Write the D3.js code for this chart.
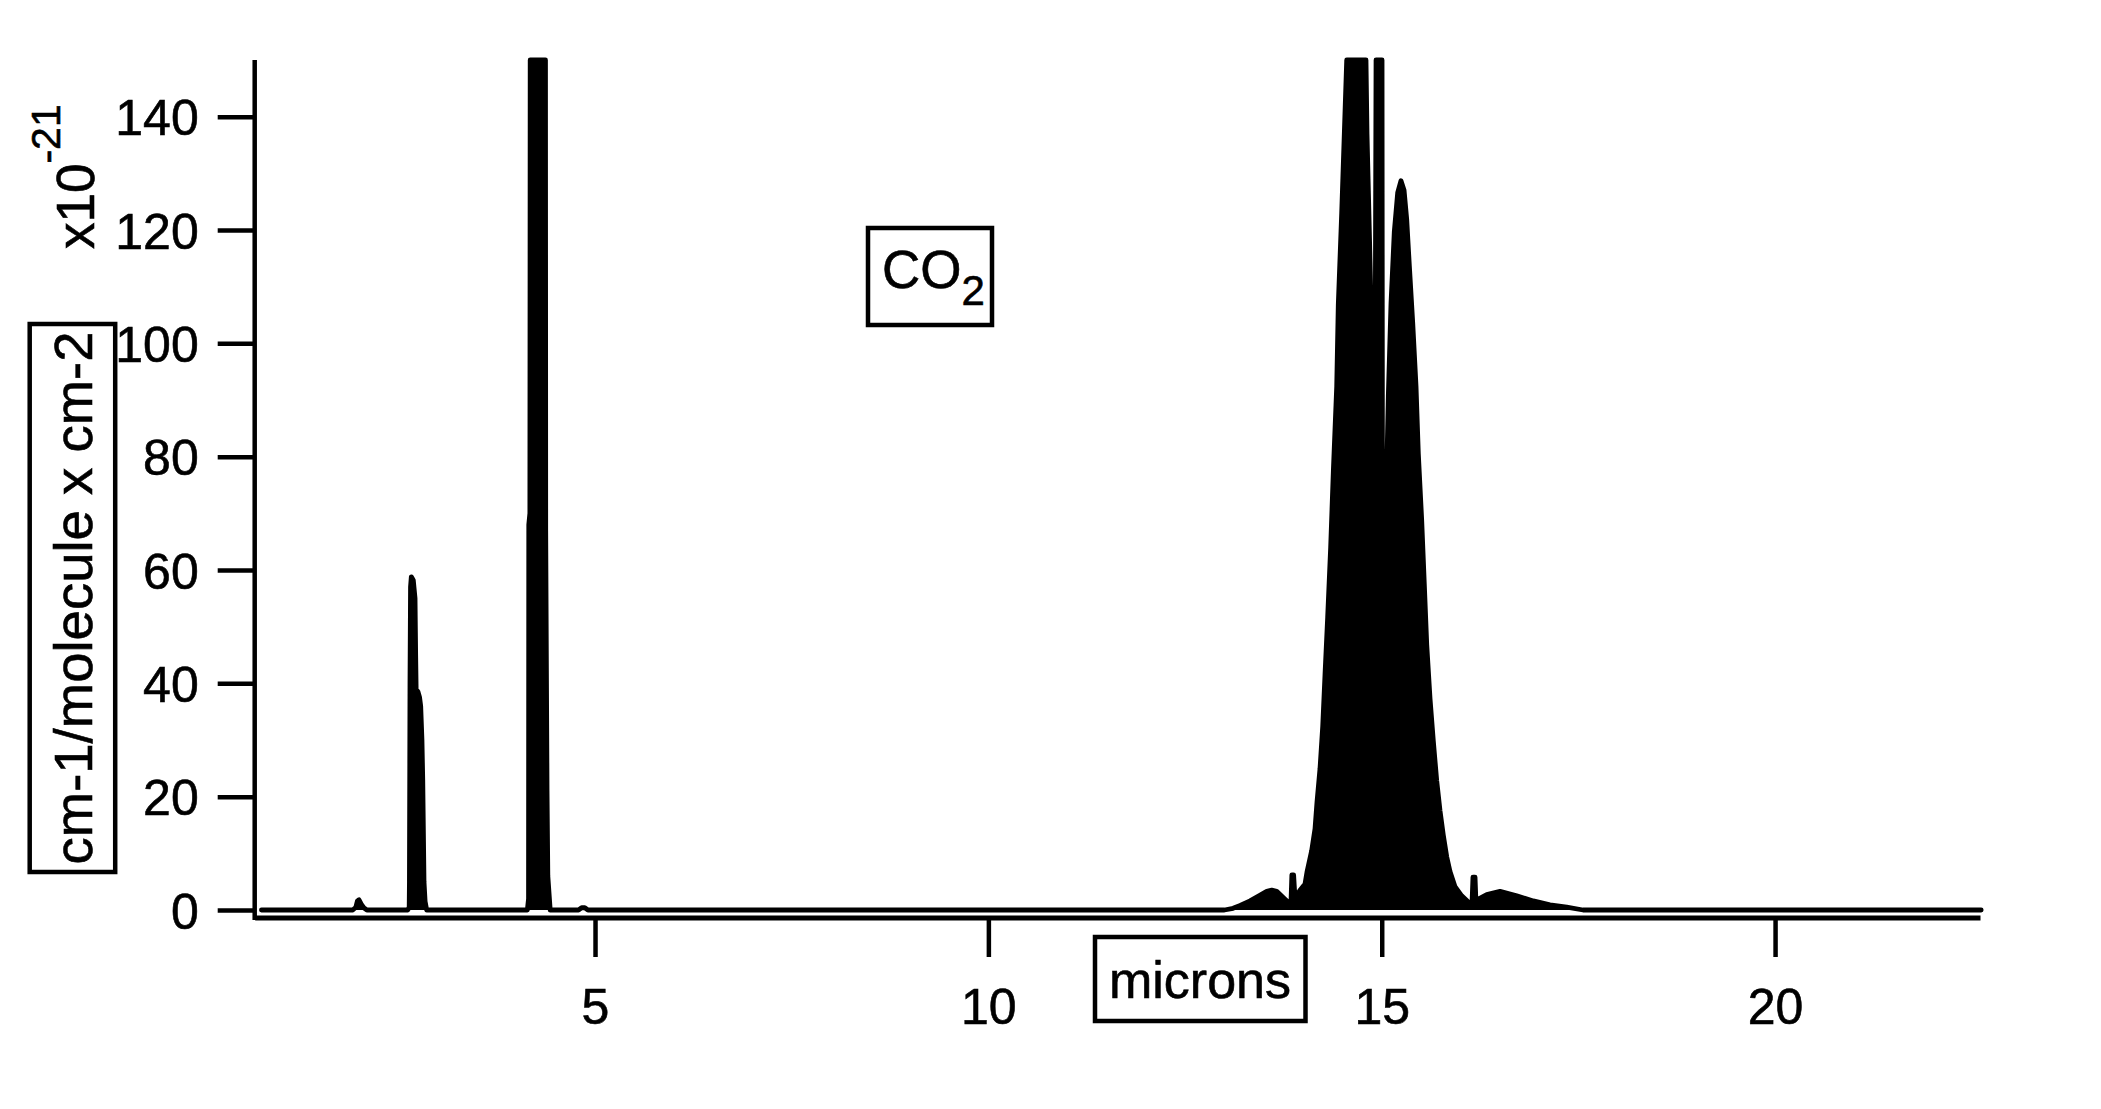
<!DOCTYPE html>
<html>
<head>
<meta charset="utf-8">
<script src="https://cdn.jsdelivr.net/npm/d3@7"></script>
<style>
  html, body { margin: 0; padding: 0; background: #ffffff; }
  svg { display: block; }
  text { font-family: "Liberation Sans", Arial, Helvetica, sans-serif; fill: #000; stroke: #000; stroke-width: 0.6px; }
</style>
</head>
<body>
<svg id="chart" width="2101" height="1109"></svg>
<script>
// ---- data (wavelength in microns, band strength in 1e-21 cm-1/(molecule cm-2)) ----
const bandBaselineStart = [[0.76, 0]];
const band2_0 = [[1.92, 0], [1.96, 0.5], [1.98, 1.6], [2.00, 1.8], [2.03, 1.0], [2.06, 0.4], [2.10, 0]];
const band2_7 = [[2.62, 0], [2.638, 0.5], [2.641, 5], [2.648, 40], [2.655, 57], [2.665, 58.8], [2.69, 58.2],
  [2.712, 55], [2.72, 45], [2.726, 39], [2.75, 38.5], [2.77, 37.5], [2.784, 36], [2.80, 30], [2.81, 23],
  [2.826, 5], [2.84, 1.5], [2.86, 0]];
const band4_3 = [[4.14, 0], [4.155, 2], [4.158, 68], [4.172, 70], [4.176, 150], [4.37, 150], [4.373, 67],
  [4.39, 21], [4.40, 6], [4.43, 0]];
const band4_8 = [[4.79, 0], [4.83, 0.4], [4.87, 0.4], [4.91, 0]];
const band15 = [[13.0, 0], [13.11, 0.3], [13.2, 0.8], [13.326, 1.6], [13.45, 2.6], [13.538, 3.3], [13.602, 3.5], [13.665, 3.3],
  [13.771, 1.9], [13.809, 1.4], [13.847, 1.5], [13.858, 6.2], [13.88, 6.2], [13.898, 2.0], [13.919, 2.5],
  [13.961, 3.5], [14.025, 4.6], [14.05, 6.7], [14.11, 10.5], [14.152, 14.3], [14.177, 19], [14.216, 25],
  [14.25, 32.4], [14.279, 41.5], [14.313, 51.7], [14.351, 64], [14.385, 77.4], [14.428, 92.4],
  [14.448, 106.8], [14.491, 122.9], [14.524, 136.8], [14.555, 150], [14.80, 150], [14.813, 137],
  [14.851, 114.8], [14.893, 89], [14.915, 88], [14.928, 150], [15.004, 150], [15.013, 15], [15.023, 43.7],
  [15.051, 68.8], [15.084, 90.7], [15.118, 107], [15.16, 119.7], [15.203, 126.6], [15.245, 128.7],
  [15.284, 127], [15.318, 121.8], [15.351, 113.7], [15.394, 103.6], [15.436, 92.4], [15.465, 80.6],
  [15.508, 68.8], [15.541, 57.6], [15.572, 46.9], [15.614, 37.3], [15.656, 29.8], [15.699, 22.8],
  [15.741, 17.5], [15.783, 13.2], [15.826, 9.4], [15.868, 6.8], [15.932, 4.1], [16.017, 2.5],
  [16.101, 1.4], [16.148, 1.2], [16.16, 5.8], [16.186, 5.8], [16.199, 1.0], [16.228, 1.9], [16.335, 2.7],
  [16.504, 3.3], [16.716, 2.5], [16.927, 1.6], [17.139, 0.9], [17.352, 0.5], [17.559, 0]];
const bandBaselineEnd = [[22.62, 0]];

const xTickValues = [5, 10, 15, 20];
const yTickValues = [0, 20, 40, 60, 80, 100, 120, 140];
const xTitle = "microns";
const yTitle = "cm-1/molecule x cm-2";
const moleculeName = "CO";
const moleculeSub = "2";

// ---- layout ----
const svg = d3.select("#chart");
svg.append("rect").attr("width", 2101).attr("height", 1109).attr("fill", "#fff");

const x = d3.scaleLinear().domain([0.674, 22.605]).range([254.7, 1980]);
const y = d3.scaleLinear().domain([0, 150]).range([910, 60]);
const xAxisY = 917.5;

const spectrum = [].concat(bandBaselineStart, band2_0, band2_7, band4_3, band4_8, band15, bandBaselineEnd);

// filled envelope
svg.append("path")
  .datum(spectrum)
  .attr("fill", "#000")
  .attr("d", d3.area().x(d => x(d[0])).y0(y(0)).y1(d => y(d[1])));

// trace
svg.append("path")
  .datum(spectrum)
  .attr("fill", "none")
  .attr("stroke", "#000")
  .attr("stroke-width", 4.8)
  .attr("stroke-linejoin", "round")
  .attr("stroke-linecap", "round")
  .attr("d", d3.line().x(d => x(d[0])).y(d => y(d[1])));

// y axis
const gy = svg.append("g")
  .attr("transform", "translate(254.7,0)")
  .call(d3.axisLeft(y).tickValues(yTickValues).tickSize(37).tickSizeOuter(0).tickPadding(19));
gy.select(".domain").remove();
gy.selectAll(".tick line").attr("stroke", "#000").attr("stroke-width", 4.5);
gy.selectAll(".tick text").attr("font-size", 50).attr("fill", "#000")
  .attr("font-family", '"Liberation Sans", Arial, sans-serif').attr("dy", "0.36em");
svg.append("line")
  .attr("x1", x.range()[0]).attr("x2", x.range()[0])
  .attr("y1", y.range()[1]).attr("y2", xAxisY + 2.5)
  .attr("stroke", "#000").attr("stroke-width", 4.5);

// x axis
const gx = svg.append("g")
  .attr("transform", `translate(0,${xAxisY})`)
  .call(d3.axisBottom(x).tickValues(xTickValues).tickFormat(d3.format("d")).tickSize(39.5).tickSizeOuter(0).tickPadding(31));
gx.select(".domain").attr("stroke", "#000").attr("stroke-width", 5);
gx.selectAll(".tick line").attr("stroke", "#000").attr("stroke-width", 4.5);
gx.selectAll(".tick text").attr("font-size", 50).attr("fill", "#000")
  .attr("font-family", '"Liberation Sans", Arial, sans-serif');

// x10^-21 multiplier
const mult = svg.append("text")
  .attr("transform", "translate(94,249) rotate(-90)")
  .attr("font-size", 53);
mult.append("tspan").text("x10");
mult.append("tspan").attr("font-size", 41).attr("dy", -34).text("-21");

// y title box
svg.append("rect").attr("x", 29.7).attr("y", 324).attr("width", 85.5).attr("height", 548)
  .attr("fill", "none").attr("stroke", "#000").attr("stroke-width", 4.5);
svg.append("text")
  .attr("transform", "translate(92,598) rotate(-90)")
  .attr("text-anchor", "middle")
  .attr("font-size", 54.5)
  .text(yTitle);

// x title box
svg.append("rect").attr("x", 1095).attr("y", 937).attr("width", 210.5).attr("height", 84)
  .attr("fill", "none").attr("stroke", "#000").attr("stroke-width", 4.5);
svg.append("text")
  .attr("x", 1200).attr("y", 998)
  .attr("text-anchor", "middle")
  .attr("font-size", 52)
  .text(xTitle);

// CO2 label box
svg.append("rect").attr("x", 868).attr("y", 228).attr("width", 124).attr("height", 97)
  .attr("fill", "none").attr("stroke", "#000").attr("stroke-width", 4.5);
const co2 = svg.append("text").attr("x", 882).attr("y", 288).attr("font-size", 53);
co2.append("tspan").text(moleculeName);
co2.append("tspan").attr("font-size", 42).attr("dy", 17).text(moleculeSub);
</script>
</body>
</html>
